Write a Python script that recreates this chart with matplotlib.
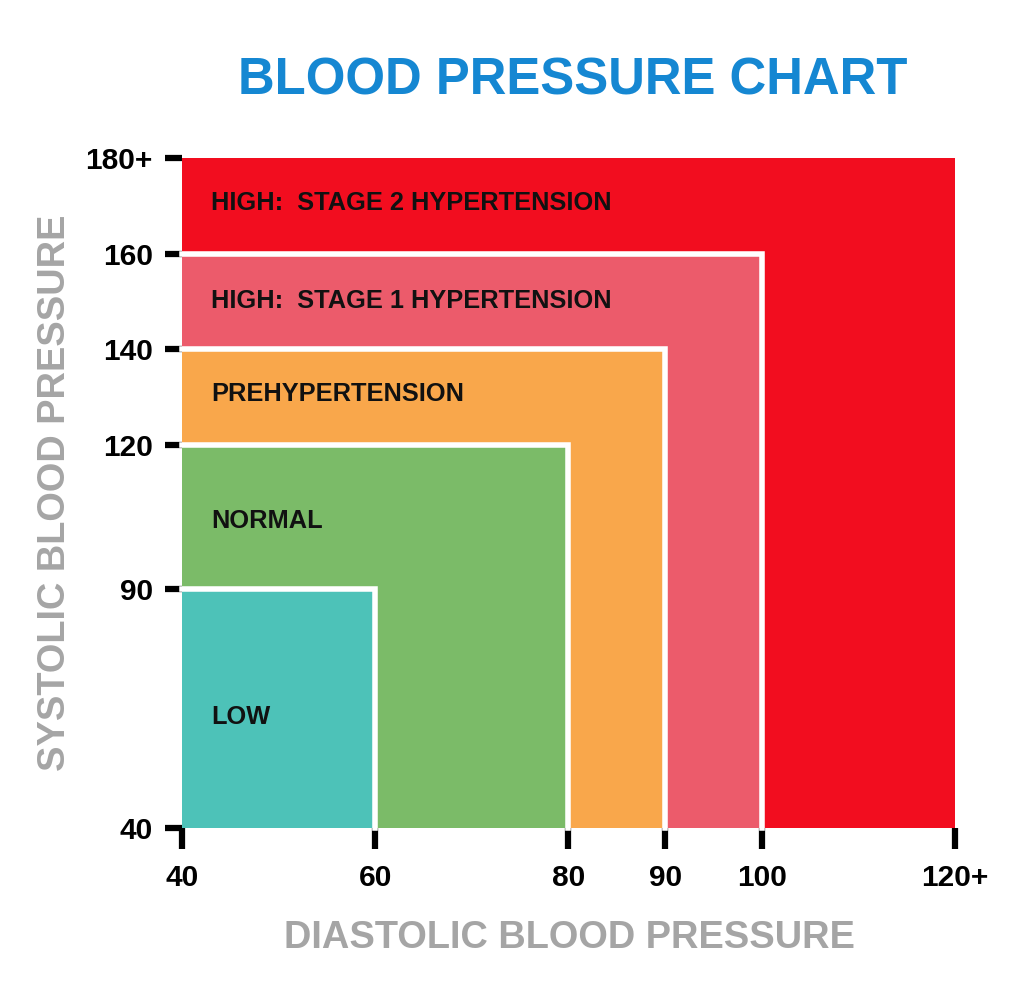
import matplotlib
matplotlib.use("Agg")
import matplotlib.pyplot as plt
from matplotlib.patches import Rectangle

plt.rcParams["font.family"] = ["Liberation Sans", "DejaVu Sans"]
plt.rcParams["font.weight"] = "bold"

# ---------------------------------------------------------------------------
# Data (zones listed from outermost to innermost)
# ---------------------------------------------------------------------------
zone_names = [
    "HIGH:  STAGE 2 HYPERTENSION",
    "HIGH:  STAGE 1 HYPERTENSION",
    "PREHYPERTENSION",
    "NORMAL",
    "LOW",
]
zone_diastolic_max = [120, 100, 90, 80, 60]
zone_systolic_max = [180, 160, 140, 120, 90]
zone_colors = ["#f20d1f", "#ec5b6b", "#f9a74b", "#7bbb68", "#4dc2b8"]
zone_label_y = [170.6, 150.1, 130.6, 104.1, 63.1]

x_ticks = [40, 60, 80, 90, 100, 120]
x_tick_labels = ["40", "60", "80", "90", "100", "120+"]
y_ticks = [40, 90, 120, 140, 160, 180]
y_tick_labels = ["40", "90", "120", "140", "160", "180+"]

X_MIN, Y_MIN = 40, 40

fig = plt.figure(figsize=(10.24, 9.81), dpi=100)
ax = fig.add_axes([0.17773, 0.15596, 0.75488, 0.68298])

for i, (name, xm, ym, col, ly) in enumerate(
    zip(zone_names, zone_diastolic_max, zone_systolic_max, zone_colors, zone_label_y)
):
    ax.add_patch(Rectangle((X_MIN, Y_MIN), xm - X_MIN, ym - Y_MIN,
                           facecolor=col, edgecolor="none", zorder=1 + i))
    if i > 0:
        # white border on top and right edges only
        ax.plot([X_MIN, xm, xm], [ym, ym, Y_MIN], color="white",
                linewidth=4.0, solid_joinstyle="miter", zorder=1 + i,
                clip_on=False)
    ax.text(43, ly, name, fontsize=18.3, fontweight="bold", color="#111111",
            va="center", ha="left", zorder=10)

ax.set_xlim(X_MIN, zone_diastolic_max[0])
ax.set_ylim(Y_MIN, zone_systolic_max[0])
for s in ax.spines.values():
    s.set_visible(False)

ax.set_xticks(x_ticks)
ax.set_xticklabels(x_tick_labels)
ax.set_yticks(y_ticks)
ax.set_yticklabels(y_tick_labels)
ax.tick_params(axis="x", length=15, width=4.5, color="black", pad=11,
               labelsize=21.5)
ax.tick_params(axis="y", length=12, width=4.5, color="black", pad=9,
               labelsize=21.5)
for lab in ax.get_xticklabels() + ax.get_yticklabels():
    lab.set_fontweight("bold")

fig.text(0.5596, 0.9032, "BLOOD PRESSURE CHART", fontsize=36.6,
         fontweight="bold", color="#1587d2", ha="center", va="baseline")
fig.text(0.5557, 0.0438, "DIASTOLIC BLOOD PRESSURE", fontsize=27.4,
         fontweight="bold", color="#a5a5a5", ha="center", va="center")
fig.text(0.0537, 0.498, "SYSTOLIC BLOOD PRESSURE", fontsize=27.4,
         fontweight="bold", color="#a5a5a5", ha="center", va="center",
         rotation=90)

fig.savefig("out.png", dpi=100, facecolor="white")
